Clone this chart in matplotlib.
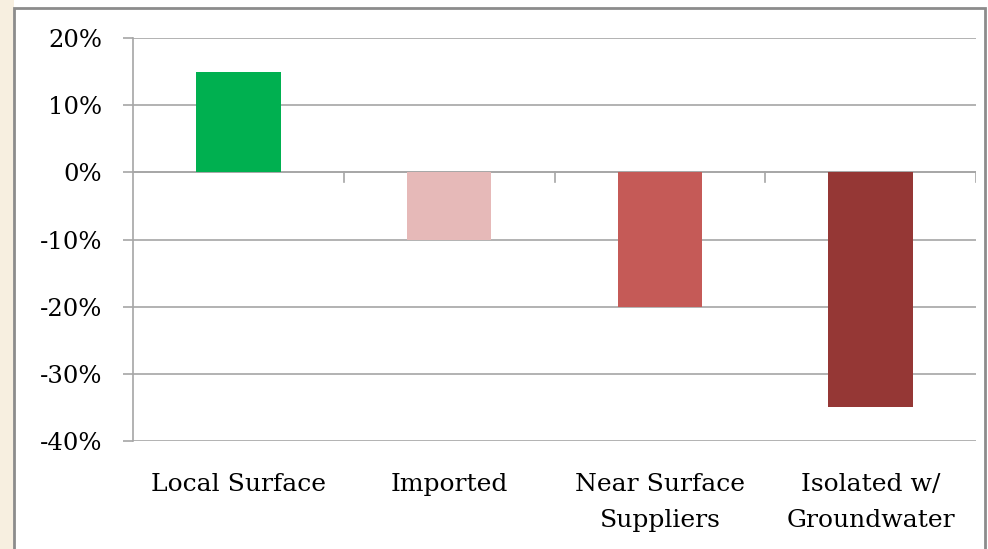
import matplotlib.pyplot as plt
from matplotlib.patches import Rectangle

categories = ["Local Surface", "Imported", "Near Surface\nSuppliers", "Isolated w/\nGroundwater"]
values = [15, -10, -20, -35]
colors = ["#00B050", "#E6B9B8", "#C55A57", "#953735"]
yticks = [20, 10, 0, -10, -20, -30, -40]

plt.rcParams['font.family'] = ['DejaVu Serif']

fig = plt.figure(figsize=(9.88, 5.49), dpi=100)
fig.patch.set_facecolor("white")

# slide background strip and chart frame
fig.patches.append(Rectangle((0, 0), 14/988, 1, transform=fig.transFigure,
                             facecolor="#F7EFE0", edgecolor="none", zorder=-10))
fig.patches.append(Rectangle((14/988, -0.05), (985-14)/988, 1.05 - 8/549, transform=fig.transFigure,
                             facecolor="white", edgecolor="#8C8C8C", linewidth=2, zorder=-10))

ax = fig.add_axes([133/988, 1-441/549, (976-133)/988, (441-38)/549])
ax.set_facecolor("none")

x = range(len(categories))
ax.bar(x, values, width=0.4, color=colors, zorder=3)

ax.set_xlim(-0.5, len(categories) - 0.5)
ax.set_ylim(-40, 20)
ax.set_yticks(yticks)
ax.set_yticklabels([str(v) + "%" for v in yticks], fontsize=17.5)
ax.yaxis.grid(True, color="#A6A6A6", linewidth=1.2, zorder=0)
ax.set_axisbelow(True)

for s in ["top", "right", "bottom"]:
    ax.spines[s].set_visible(False)
ax.spines["left"].set_color("#A6A6A6")
ax.spines["left"].set_linewidth(1.2)
ax.tick_params(axis="y", length=7, width=1.2, color="#A6A6A6", pad=15)

ax.set_xticks(list(x))
ax.set_xticklabels(categories, fontsize=18)
for t in ax.get_xticklabels():
    t.set_linespacing(1.75)
ax.tick_params(axis="x", length=0, pad=23)

# category axis at zero with boundary tick marks
ax.axhline(0, color="#A6A6A6", linewidth=1.2, zorder=2)
for b in [0.5, 1.5, 2.5, 3.5]:
    ax.plot([b, b], [0, -1.5], color="#A6A6A6", linewidth=1.2, zorder=2)

fig.savefig("out.png", dpi=100)
